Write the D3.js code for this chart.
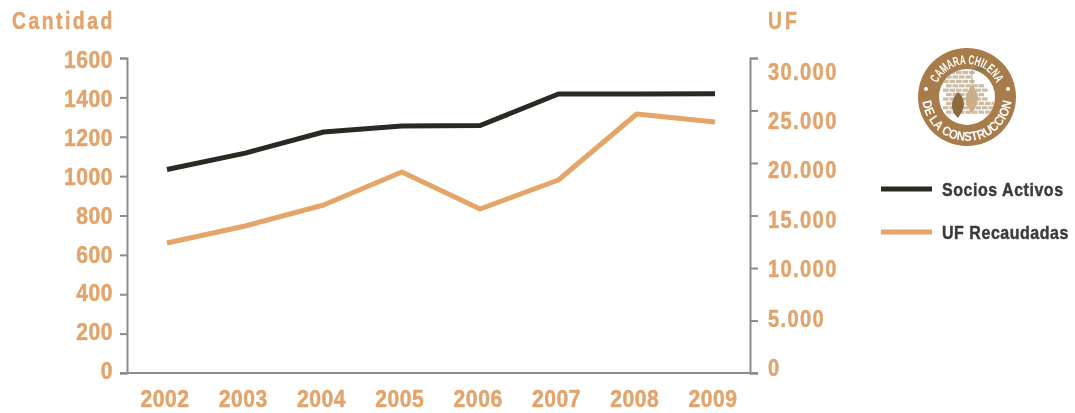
<!DOCTYPE html>
<html>
<head>
<meta charset="utf-8">
<script src="https://cdn.jsdelivr.net/npm/d3@7"></script>
<style>
  html, body { margin: 0; padding: 0; background: #fff; }
  text { font-family: "Liberation Sans", sans-serif; font-weight: 700; }
  svg { display: block; filter: blur(0.35px); }
</style>
</head>
<body>
<div id="app"></div>
<script>
const years = ["2002", "2003", "2004", "2005", "2006", "2007", "2008", "2009"];
const socios = [1034, 1117, 1224, 1255, 1257, 1417, 1417, 1419];
const uf = [12380, 14000, 16000, 19140, 15620, 18380, 24670, 23900];
const leftTicks = [0, 200, 400, 600, 800, 1000, 1200, 1400, 1600];
const rightTicks = [0, 5000, 10000, 15000, 20000, 25000, 30000];
const rightLabels = ["0", "5.000", "10.000", "15.000", "20.000", "25.000", "30.000"];

const orange = "#e2a46c";
const lineOrange = "#e5a468";
const dark = "#2a2a24";
const gray = "#8c8c8c";
const brown = "#a87c4a";

const svg = d3.select("#app").append("svg")
    .attr("width", 1075)
    .attr("height", 413);

const x = d3.scalePoint().domain(years).range([167, 715]);
const yLeft = d3.scaleLinear().domain([0, 1600]).range([373, 58]);
const yRight = d3.scaleLinear().domain([0, 30000]).range([373, 58]);

// the labels in the original do not sit exactly on their ticks
const yLeftLabel = d3.scaleLinear().domain([0, 1600]).range([371, 60.5]);
const yRightLabel = d3.scaleLinear().domain([0, 30000]).range([368, 71.5]);

// axes, labels are drawn apart
function styleAxis(g) {
    g.selectAll("path").attr("stroke", gray).attr("stroke-width", 2);
    g.selectAll("line").attr("stroke", gray).attr("stroke-width", 2);
}

svg.append("g")
    .attr("transform", "translate(127,0)")
    .call(d3.axisLeft(yLeft).tickValues(leftTicks).tickSize(7).tickSizeOuter(7).tickFormat(""))
    .call(styleAxis);

svg.append("g")
    .attr("transform", "translate(750,0)")
    .call(d3.axisRight(yRight).tickValues(rightTicks).tickSize(8).tickSizeOuter(8).tickFormat(""))
    .call(styleAxis);

svg.append("line")
    .attr("x1", 120).attr("x2", 758)
    .attr("y1", yLeft(0)).attr("y2", yLeft(0))
    .attr("stroke", gray).attr("stroke-width", 2);

// no condensed font here, so squeeze the glyphs horizontally
function label(sel, size, spacing, squeeze) {
    return sel.attr("fill", orange)
        .attr("stroke", orange)
        .attr("stroke-width", 0.5)
        .attr("font-size", size)
        .attr("letter-spacing", spacing)
        .attr("dominant-baseline", "central")
        .attr("transform", function() {
            const tx = +this.getAttribute("data-x");
            const ty = +this.getAttribute("data-y");
            return "translate(" + tx + "," + ty + ") scale(" + squeeze + ",1)";
        });
}

svg.append("g").selectAll("text")
    .data(leftTicks)
    .enter().append("text")
    .attr("data-x", 113)
    .attr("data-y", d => yLeftLabel(d))
    .attr("text-anchor", "end")
    .text(d => d)
    .call(label, 24, 0.6, 0.88);

svg.append("g").selectAll("text")
    .data(rightTicks)
    .enter().append("text")
    .attr("data-x", 768)
    .attr("data-y", d => yRightLabel(d))
    .text((d, i) => rightLabels[i])
    .call(label, 24, 1.6, 0.84);

svg.append("g").selectAll("text")
    .data(years)
    .enter().append("text")
    .attr("data-x", d => x(d) - 2)
    .attr("data-y", 399)
    .attr("text-anchor", "middle")
    .text(d => d)
    .call(label, 24, 0.6, 0.88);

svg.append("text").attr("data-x", 12).attr("data-y", 21).text("Cantidad").call(label, 23, 3, 0.84);
svg.append("text").attr("data-x", 768).attr("data-y", 21).text("UF").call(label, 23, 3.5, 0.84);

// lines
const lineLeft = d3.line().x((d, i) => x(years[i])).y(d => yLeft(d));
const lineRight = d3.line().x((d, i) => x(years[i])).y(d => yRight(d));

svg.append("path")
    .attr("d", lineRight(uf))
    .attr("fill", "none")
    .attr("stroke", lineOrange)
    .attr("stroke-width", 5)
    .attr("stroke-linejoin", "round");

svg.append("path")
    .attr("d", lineLeft(socios))
    .attr("fill", "none")
    .attr("stroke", dark)
    .attr("stroke-width", 5)
    .attr("stroke-linejoin", "round");

// legend
const legendNames = ["Socios Activos", "UF Recaudadas"];
const legendColors = [dark, lineOrange];
const legendY = [189, 232];

legendNames.forEach((name, i) => {
    svg.append("line")
        .attr("x1", 881).attr("x2", 932)
        .attr("y1", legendY[i]).attr("y2", legendY[i])
        .attr("stroke", legendColors[i])
        .attr("stroke-width", 5);
    svg.append("text")
        .attr("transform", "translate(942," + (legendY[i] + 1) + ") scale(0.89,1)")
        .attr("dominant-baseline", "central")
        .attr("font-size", 18)
        .attr("letter-spacing", 0.6)
        .attr("fill", "#3a3a38")
        .attr("stroke", "#3a3a38")
        .attr("stroke-width", 0.4)
        .text(name);
});

// logo
const logo = svg.append("g").attr("transform", "translate(967,97)");
const defs = svg.append("defs");

defs.append("clipPath").attr("id", "inner").append("circle").attr("r", 28);
defs.append("path").attr("id", "arcTop").attr("d", "M-32,-6 A32.5,32.5 0 0 1 32,-6");
defs.append("path").attr("id", "arcBottom").attr("d", "M-45,-1 A45,45 0 0 0 45,-1");

logo.append("circle").attr("r", 49).attr("fill", brown);
logo.append("circle").attr("r", 28).attr("fill", "#fff");

logo.append("text")
    .attr("font-size", 13).attr("fill", "#fff")
    .append("textPath").attr("href", "#arcTop").attr("startOffset", "50%")
    .attr("text-anchor", "middle")
    .attr("textLength", 74).attr("lengthAdjust", "spacingAndGlyphs")
    .text("CAMARA CHILENA");

logo.append("text")
    .attr("font-size", 13).attr("fill", "#fff")
    .append("textPath").attr("href", "#arcBottom").attr("startOffset", "50%")
    .attr("text-anchor", "middle")
    .attr("textLength", 130).attr("lengthAdjust", "spacingAndGlyphs")
    .text("DE LA CONSTRUCCION");

logo.selectAll("circle.dot")
    .data([-41, 41])
    .enter().append("circle")
    .attr("class", "dot")
    .attr("cx", d => d).attr("cy", -8).attr("r", 2)
    .attr("fill", "#fff");

// brick wall
const wall = logo.append("g").attr("clip-path", "url(#inner)");
const brickRows = d3.range(-26, 18, 4.4);
brickRows.forEach((ry, i) => {
    const right = i < 3 ? 4 : (i < 7 ? 16 : 26);
    d3.range(-24 + (i % 2) * 3, right, 6.5).forEach(rx => {
        wall.append("rect")
            .attr("x", rx).attr("y", ry)
            .attr("width", 5.6).attr("height", 3.2)
            .attr("fill", "#cdbda6");
    });
});

// two jars, a post and the little cloud
logo.append("path")
    .attr("d", "M-9,-5 C-5,-2 -3,3 -3,8 C-4,14 -7,18 -9,21 C-12,18 -15,14 -15,8 C-15,3 -12,-2 -9,-5Z")
    .attr("fill", "#8e6a3f");
logo.append("path")
    .attr("d", "M5,-12 C9,-8 11,-3 11,2 C10,9 7,13 5,16 C2,13 -1,9 -1,2 C-1,-3 2,-8 5,-12Z")
    .attr("fill", "#c9ae88");
logo.append("line")
    .attr("x1", 5).attr("x2", 5).attr("y1", -33).attr("y2", -12)
    .attr("stroke", "#a89a80").attr("stroke-width", 0.8);
logo.append("path")
    .attr("d", "M7,-28 C11,-31 16,-30 20,-27 C16,-26 11,-26 7,-28Z")
    .attr("fill", "#7d7658");
</script>
</body>
</html>
